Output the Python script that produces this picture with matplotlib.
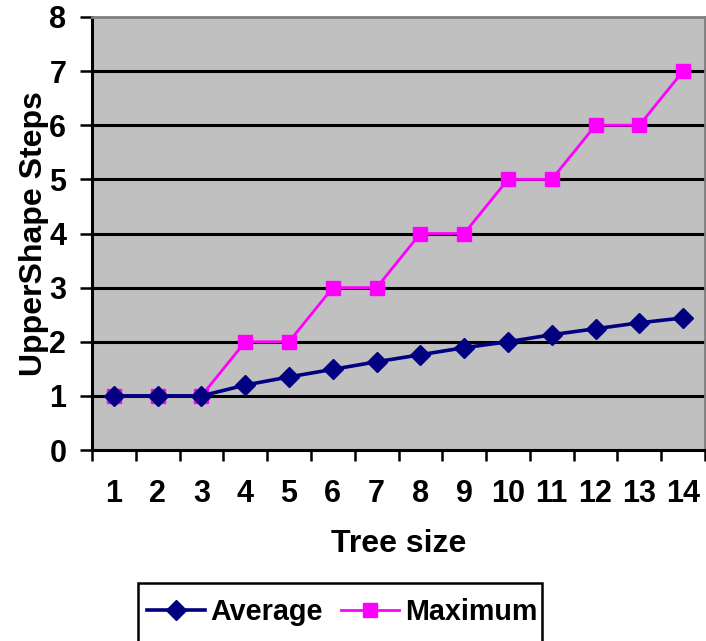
import matplotlib
matplotlib.use("Agg")
import matplotlib.pyplot as plt
from matplotlib.patches import Rectangle
from matplotlib.ticker import FixedLocator, NullFormatter

tree_sizes = [1, 2, 3, 4, 5, 6, 7, 8, 9, 10, 11, 12, 13, 14]
average_steps = [1.0, 1.0, 1.0, 1.2, 1.35, 1.49, 1.63, 1.76, 1.89, 2.0, 2.13, 2.24, 2.35, 2.44]
maximum_steps = [1, 1, 1, 2, 2, 3, 3, 4, 4, 5, 5, 6, 6, 7]
y_ticks = [0, 1, 2, 3, 4, 5, 6, 7, 8]

plt.rcParams["font.family"] = ["Liberation Sans", "DejaVu Sans"]
plt.rcParams["font.weight"] = "bold"
FS = 22
LABEL_FS = 23
LEGEND_FS = 20.7

W, H = 706, 641
fig = plt.figure(figsize=(W / 100, H / 100), dpi=100)
ax = fig.add_axes([92 / W, 1 - 450 / H, (705 - 92) / W, (450 - 17) / H])
ax.set_facecolor("#C0C0C0")

for y in y_ticks[1:-1]:
    ax.axhline(y, color="black", lw=2.2, zorder=1)

ax.plot(tree_sizes, average_steps, color="#000080", lw=2.6, marker="D",
        markersize=10, markeredgecolor="#000080", zorder=3, label="Average")
ax.plot(tree_sizes, maximum_steps, color="#FF00FF", lw=2.0, marker="s",
        markersize=10.5, markeredgecolor="#FF00FF", zorder=2, label="Maximum")

ax.set_xlim(0.5, len(tree_sizes) + 0.5)
ax.set_ylim(0, 8)

ax.set_xticks(tree_sizes)
ax.set_xticklabels([str(t) for t in tree_sizes])
ax.tick_params(axis="x", which="major", length=0, pad=21, labelsize=FS)
ax.xaxis.set_minor_locator(FixedLocator([t + 0.5 for t in [0] + tree_sizes]))
ax.xaxis.set_minor_formatter(NullFormatter())
ax.tick_params(axis="x", which="minor", length=8, width=1.8, direction="out", color="black")

ax.set_yticks(y_ticks)
ax.tick_params(axis="y", length=8.5, width=1.8, direction="out", labelsize=FS, pad=10)

for side in ("left", "bottom"):
    ax.spines[side].set_color("black")
    ax.spines[side].set_linewidth(2.2)
for side in ("top", "right"):
    ax.spines[side].set_color("#808080")
    ax.spines[side].set_linewidth(2)

ax.set_xlabel("Tree size", fontsize=LABEL_FS, fontweight="bold", labelpad=14)
ax.set_ylabel("UpperShape Steps", fontsize=LABEL_FS, fontweight="bold", labelpad=0)

# legend frame runs past the lower edge of the figure
fig.add_artist(Rectangle((137.5 / W, -10 / H), (542 - 137.5) / W, (641 - 583 + 10) / H,
                         transform=fig.transFigure, facecolor="white",
                         edgecolor="black", linewidth=1.8, zorder=4))
leg = fig.legend(loc="center left", bbox_to_anchor=(147 / W, 1 - 612 / H), ncol=2,
                 fontsize=LEGEND_FS, frameon=False, handlelength=2.0,
                 handletextpad=0.2, columnspacing=0.65, borderpad=0, borderaxespad=0)
leg.set_zorder(5)

fig.savefig("out.png", dpi=100, facecolor="white")
